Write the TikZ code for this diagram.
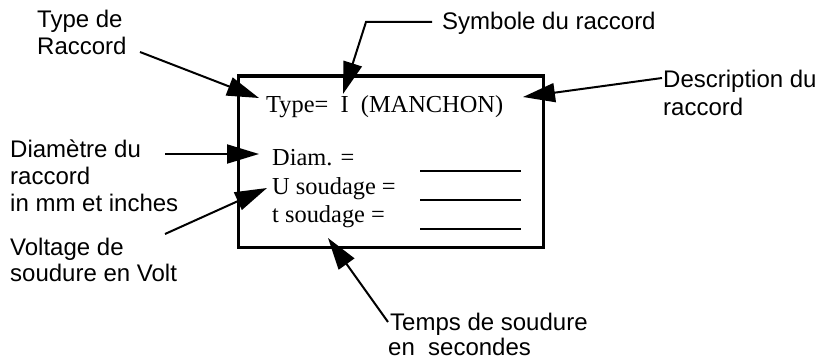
\documentclass[tikz,border=0pt]{standalone}
\usepackage{fontspec}
\setmainfont{Liberation Serif}
\setsansfont{Liberation Sans}
\usetikzlibrary{arrows.meta}
\begin{document}
\begin{tikzpicture}[x=1pt,y=-1pt,
  lab/.style={font=\sffamily\fontsize{24}{27}\selectfont, inner sep=0pt, anchor=base west},
  tim/.style={font=\rmfamily\fontsize{24.4}{28}\selectfont, inner sep=0pt, anchor=base west},
  arr/.style={line width=2pt, -{Triangle[length=32pt,width=19pt]}},
  blank/.style={line width=2.5pt}]
\useasboundingbox (0,0) rectangle (819,361);
% frame
\draw[line width=3pt] (238,76) rectangle (543,247);
% box texts
\node[tim] (type) at (266,112) {Type=\ \ I\ \ (MANCHON)};
\node[tim] (diam) at (272,165) {Diam. =};
\node[tim] (usoud) at (272,194) {U soudage =};
\node[tim] (tsoud) at (272,222) {t soudage =};
% blanks
\coordinate (b1a) at (420,171); \coordinate (b1b) at (521,171);
\coordinate (b2a) at (420,200); \coordinate (b2b) at (521,200);
\coordinate (b3a) at (420,229); \coordinate (b3b) at (521,229);
\draw[blank] (b1a) -- (b1b);
\draw[blank] (b2a) -- (b2b);
\draw[blank] (b3a) -- (b3b);
% labels
\node[lab] (typede) at (37,28) {Type de};
\node[lab] (raccord1) at (37,55) {Raccord};
\node[lab] (symb) at (442,30) {Symbole du raccord};
\node[lab] (descr) at (663,88) {Description du};
\node[lab] (raccord2) at (663,115) {raccord};
\node[lab] (diametre) at (10,157) {Diamètre du};
\node[lab] (raccord3) at (10,184) {raccord};
\node[lab] (inmm) at (10,211) {in mm et inches};
\node[lab] (voltage) at (10,255) {Voltage de};
\node[lab] (soudure) at (10,281) {soudure en Volt};
\node[lab] (temps) at (390,330) {Temps de soudure};
\node[lab] (secondes) at (388,355) {en\ \ secondes};
% connector points
\coordinate (s1) at (140,52);  \coordinate (t1) at (259,98);
\coordinate (s2) at (432,22);  \coordinate (k2) at (366,22); \coordinate (t2) at (343,94);
\coordinate (s3) at (662,78);  \coordinate (t3) at (523,97);
\coordinate (s4) at (165,154); \coordinate (t4) at (259,154);
\coordinate (s5) at (165,234); \coordinate (t5) at (267,188);
\coordinate (s6) at (388,322); \coordinate (t6) at (328,238);
\draw[arr] (s1) -- (t1);
\draw[arr] (s2) -- (k2) -- (t2);
\draw[arr] (s3) -- (t3);
\draw[arr] (s4) -- (t4);
\draw[arr] (s5) -- (t5);
\draw[arr] (s6) -- (t6);
\end{tikzpicture}
\end{document}
